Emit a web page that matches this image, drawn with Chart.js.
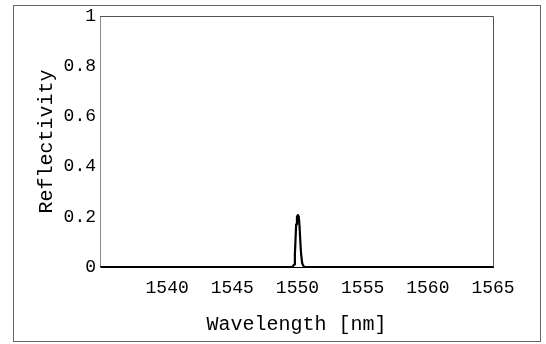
<!DOCTYPE html>
<html>
<head>
<meta charset="utf-8">
<script src="https://cdn.jsdelivr.net/npm/chart.js@4/dist/chart.umd.min.js"></script>
<style>
    html, body { margin: 0; padding: 0; background: #fff; }
    #wrap { width: 546px; height: 344px; }
</style>
</head>
<body>
<div id="wrap"><canvas id="reflChart" width="546" height="344"></canvas></div>
<script>
// Grating reflection spectrum
const wavelength = [1534.85, 1549.62, 1549.74, 1549.8, 1549.85, 1549.9, 1549.96, 1550.03,
    1550.1, 1550.16, 1550.22, 1550.28, 1550.36, 1550.5, 1565];
const reflectivity = [0, 0, 0.01, 0.05, 0.11, 0.17, 0.2, 0.207,
    0.2, 0.16, 0.1, 0.05, 0.015, 0, 0];

const xTicks = [1540, 1545, 1550, 1555, 1560, 1565];
const yTicks = [0, 0.2, 0.4, 0.6, 0.8, 1];

const monoFont = 'Liberation Mono, Courier New, monospace';

// Frame lines around the plot area and the outer box
const framePlugin = {
    id: 'frames',
    afterDraw(chart) {
        const { ctx, chartArea } = chart;
        ctx.save();
        ctx.lineWidth = 1;
        ctx.strokeStyle = '#555';
        ctx.beginPath();
        ctx.moveTo(chartArea.left, chartArea.top + 0.5);
        ctx.lineTo(chartArea.right + 0.5, chartArea.top + 0.5);
        ctx.lineTo(chartArea.right + 0.5, chartArea.bottom);
        ctx.stroke();
        ctx.strokeStyle = '#666';
        ctx.strokeRect(13.5, 5.5, 527, 336);
        ctx.restore();
    }
};

const ctx = document.getElementById('reflChart');
new Chart(ctx, {
    type: 'scatter',
    data: {
        datasets: [{
            data: wavelength.map((w, i) => ({ x: w, y: reflectivity[i] })),
            showLine: true,
            borderColor: '#000',
            borderWidth: 2.2,
            borderJoinStyle: 'round',
            borderCapStyle: 'round',
            pointRadius: 0,
            tension: 0
        }]
    },
    options: {
        responsive: false,
        animation: false,
        devicePixelRatio: 1,
        layout: { padding: { top: 16, right: 53, left: 0, bottom: 0 } },
        plugins: {
            legend: { display: false },
            tooltip: { enabled: false }
        },
        scales: {
            x: {
                type: 'linear',
                min: 1534.85,
                max: 1565,
                afterBuildTicks: scale => { scale.ticks = xTicks.map(v => ({ value: v })); },
                afterFit: scale => { scale.height = 77; },
                grid: { display: false, drawTicks: false },
                border: { display: true, color: '#000', width: 1 },
                ticks: {
                    padding: 10,
                    color: '#000',
                    font: { family: monoFont, size: 18 },
                    callback: v => String(v)
                },
                title: {
                    display: true,
                    text: 'Wavelength [nm]',
                    color: '#000',
                    font: { family: monoFont, size: 20 },
                    padding: { top: 0, bottom: 7 }
                }
            },
            y: {
                min: 0,
                max: 1,
                afterBuildTicks: scale => { scale.ticks = yTicks.map(v => ({ value: v })); },
                afterFit: scale => { scale.width = 100; },
                grid: { display: false, drawTicks: false },
                border: { display: true, color: '#888', width: 1 },
                ticks: {
                    padding: 4,
                    color: '#000',
                    font: { family: monoFont, size: 18 },
                    callback: v => String(v)
                },
                title: {
                    display: true,
                    text: 'Reflectivity',
                    color: '#000',
                    font: { family: monoFont, size: 20 },
                    padding: { top: 35, bottom: 0 }
                }
            }
        }
    },
    plugins: [framePlugin]
});
</script>
</body>
</html>
